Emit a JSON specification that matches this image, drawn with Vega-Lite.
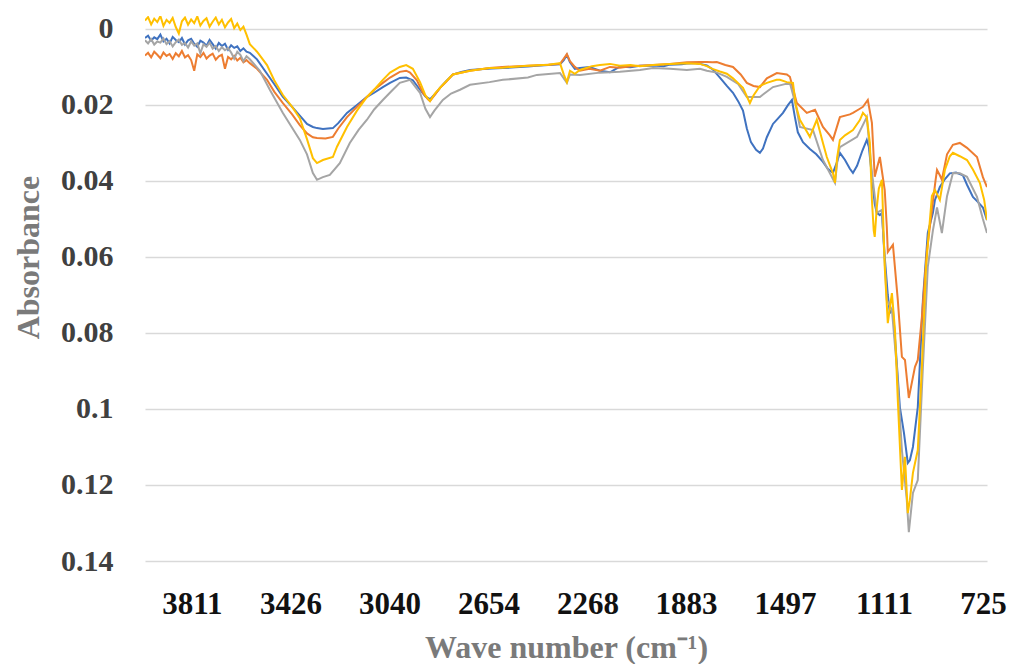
{
"$schema": "https://vega.github.io/schema/vega-lite/v6.json",
"width": 842, "height": 545,
"autosize": "none",
"padding": {"left": 145, "top": 16, "right": 22, "bottom": 103},
"background": "white",
"config": {"view": {"stroke": null}},
"data": {"values": [
{"s":"A","w":3994,"a":0.0024},{"s":"A","w":3982,"a":0.0018},{"s":"A","w":3970,"a":0.0031},{"s":"A","w":3958,"a":0.0022},{"s":"A","w":3946,"a":0.0027},{"s":"A","w":3934,"a":0.0015},{"s":"A","w":3922,"a":0.0033},{"s":"A","w":3910,"a":0.0026},{"s":"A","w":3898,"a":0.0038},{"s":"A","w":3886,"a":0.0021},{"s":"A","w":3874,"a":0.0029},{"s":"A","w":3862,"a":0.0035},{"s":"A","w":3850,"a":0.0024},{"s":"A","w":3838,"a":0.0041},{"s":"A","w":3826,"a":0.0030},{"s":"A","w":3814,"a":0.0026},{"s":"A","w":3802,"a":0.0039},{"s":"A","w":3790,"a":0.0047},{"s":"A","w":3778,"a":0.0031},{"s":"A","w":3766,"a":0.0036},{"s":"A","w":3754,"a":0.0044},{"s":"A","w":3742,"a":0.0029},{"s":"A","w":3730,"a":0.0040},{"s":"A","w":3718,"a":0.0052},{"s":"A","w":3706,"a":0.0037},{"s":"A","w":3694,"a":0.0045},{"s":"A","w":3682,"a":0.0039},{"s":"A","w":3670,"a":0.0055},{"s":"A","w":3658,"a":0.0043},{"s":"A","w":3646,"a":0.0050},{"s":"A","w":3634,"a":0.0046},{"s":"A","w":3622,"a":0.0058},{"s":"A","w":3610,"a":0.0051},{"s":"A","w":3598,"a":0.0060},{"s":"A","w":3585,"a":0.0063},{"s":"A","w":3557,"a":0.0080},{"s":"A","w":3518,"a":0.0118},{"s":"A","w":3490,"a":0.0145},{"s":"A","w":3456,"a":0.0179},{"s":"A","w":3420,"a":0.0205},{"s":"A","w":3390,"a":0.0228},{"s":"A","w":3362,"a":0.0250},{"s":"A","w":3339,"a":0.0258},{"s":"A","w":3323,"a":0.0261},{"s":"A","w":3300,"a":0.0263},{"s":"A","w":3261,"a":0.0261},{"s":"A","w":3240,"a":0.0248},{"s":"A","w":3206,"a":0.0221},{"s":"A","w":3167,"a":0.0200},{"s":"A","w":3128,"a":0.0179},{"s":"A","w":3100,"a":0.0168},{"s":"A","w":3066,"a":0.0153},{"s":"A","w":3038,"a":0.0142},{"s":"A","w":3000,"a":0.0129},{"s":"A","w":2975,"a":0.0128},{"s":"A","w":2949,"a":0.0135},{"s":"A","w":2921,"a":0.0160},{"s":"A","w":2900,"a":0.0178},{"s":"A","w":2882,"a":0.0185},{"s":"A","w":2863,"a":0.0172},{"s":"A","w":2843,"a":0.0155},{"s":"A","w":2820,"a":0.0138},{"s":"A","w":2793,"a":0.0120},{"s":"A","w":2760,"a":0.0113},{"s":"A","w":2726,"a":0.0108},{"s":"A","w":2687,"a":0.0106},{"s":"A","w":2640,"a":0.0104},{"s":"A","w":2598,"a":0.0103},{"s":"A","w":2550,"a":0.0101},{"s":"A","w":2500,"a":0.0099},{"s":"A","w":2465,"a":0.0097},{"s":"A","w":2420,"a":0.0095},{"s":"A","w":2375,"a":0.0093},{"s":"A","w":2360,"a":0.0082},{"s":"A","w":2348,"a":0.0068},{"s":"A","w":2336,"a":0.0088},{"s":"A","w":2317,"a":0.0105},{"s":"A","w":2297,"a":0.0103},{"s":"A","w":2260,"a":0.0100},{"s":"A","w":2219,"a":0.0110},{"s":"A","w":2180,"a":0.0114},{"s":"A","w":2141,"a":0.0099},{"s":"A","w":2100,"a":0.0101},{"s":"A","w":2063,"a":0.0097},{"s":"A","w":2012,"a":0.0096},{"s":"A","w":1970,"a":0.0098},{"s":"A","w":1946,"a":0.0094},{"s":"A","w":1900,"a":0.0093},{"s":"A","w":1880,"a":0.0091},{"s":"A","w":1850,"a":0.0090},{"s":"A","w":1829,"a":0.0092},{"s":"A","w":1802,"a":0.0096},{"s":"A","w":1780,"a":0.0106},{"s":"A","w":1751,"a":0.0128},{"s":"A","w":1724,"a":0.0150},{"s":"A","w":1700,"a":0.0168},{"s":"A","w":1680,"a":0.0190},{"s":"A","w":1661,"a":0.0215},{"s":"A","w":1646,"a":0.0262},{"s":"A","w":1630,"a":0.0298},{"s":"A","w":1610,"a":0.0318},{"s":"A","w":1595,"a":0.0326},{"s":"A","w":1583,"a":0.0315},{"s":"A","w":1568,"a":0.0285},{"s":"A","w":1544,"a":0.0250},{"s":"A","w":1525,"a":0.0236},{"s":"A","w":1505,"a":0.0221},{"s":"A","w":1485,"a":0.0200},{"s":"A","w":1470,"a":0.0187},{"s":"A","w":1459,"a":0.0230},{"s":"A","w":1447,"a":0.0272},{"s":"A","w":1427,"a":0.0298},{"s":"A","w":1400,"a":0.0316},{"s":"A","w":1375,"a":0.0330},{"s":"A","w":1349,"a":0.0350},{"s":"A","w":1330,"a":0.0368},{"s":"A","w":1310,"a":0.0379},{"s":"A","w":1294,"a":0.0350},{"s":"A","w":1283,"a":0.0326},{"s":"A","w":1263,"a":0.0345},{"s":"A","w":1244,"a":0.0368},{"s":"A","w":1232,"a":0.0379},{"s":"A","w":1216,"a":0.0360},{"s":"A","w":1195,"a":0.0320},{"s":"A","w":1178,"a":0.0292},{"s":"A","w":1170,"a":0.0310},{"s":"A","w":1158,"a":0.0389},{"s":"A","w":1147,"a":0.0460},{"s":"A","w":1139,"a":0.0484},{"s":"A","w":1127,"a":0.0490},{"s":"A","w":1119,"a":0.0484},{"s":"A","w":1108,"a":0.0600},{"s":"A","w":1096,"a":0.0700},{"s":"A","w":1088,"a":0.0747},{"s":"A","w":1076,"a":0.0739},{"s":"A","w":1064,"a":0.0850},{"s":"A","w":1049,"a":0.0995},{"s":"A","w":1033,"a":0.1063},{"s":"A","w":1018,"a":0.1142},{"s":"A","w":1010,"a":0.1135},{"s":"A","w":998,"a":0.1100},{"s":"A","w":979,"a":0.0995},{"s":"A","w":959,"a":0.0713},{"s":"A","w":940,"a":0.0537},{"s":"A","w":920,"a":0.0484},{"s":"A","w":912,"a":0.0450},{"s":"A","w":893,"a":0.0416},{"s":"A","w":873,"a":0.0395},{"s":"A","w":854,"a":0.0380},{"s":"A","w":830,"a":0.0378},{"s":"A","w":803,"a":0.0385},{"s":"A","w":787,"a":0.0410},{"s":"A","w":764,"a":0.0442},{"s":"A","w":745,"a":0.0455},{"s":"A","w":725,"a":0.0470},{"s":"A","w":709,"a":0.0503},
{"s":"B","w":3994,"a":0.0070},{"s":"B","w":3982,"a":0.0063},{"s":"B","w":3970,"a":0.0075},{"s":"B","w":3958,"a":0.0060},{"s":"B","w":3946,"a":0.0068},{"s":"B","w":3934,"a":0.0077},{"s":"B","w":3922,"a":0.0062},{"s":"B","w":3910,"a":0.0071},{"s":"B","w":3898,"a":0.0066},{"s":"B","w":3886,"a":0.0079},{"s":"B","w":3874,"a":0.0064},{"s":"B","w":3862,"a":0.0072},{"s":"B","w":3850,"a":0.0058},{"s":"B","w":3838,"a":0.0075},{"s":"B","w":3826,"a":0.0069},{"s":"B","w":3814,"a":0.0082},{"s":"B","w":3802,"a":0.0110},{"s":"B","w":3790,"a":0.0067},{"s":"B","w":3778,"a":0.0074},{"s":"B","w":3766,"a":0.0063},{"s":"B","w":3754,"a":0.0078},{"s":"B","w":3742,"a":0.0070},{"s":"B","w":3730,"a":0.0065},{"s":"B","w":3718,"a":0.0081},{"s":"B","w":3706,"a":0.0072},{"s":"B","w":3694,"a":0.0068},{"s":"B","w":3682,"a":0.0105},{"s":"B","w":3670,"a":0.0074},{"s":"B","w":3658,"a":0.0080},{"s":"B","w":3646,"a":0.0071},{"s":"B","w":3634,"a":0.0083},{"s":"B","w":3622,"a":0.0076},{"s":"B","w":3610,"a":0.0088},{"s":"B","w":3598,"a":0.0082},{"s":"B","w":3585,"a":0.0090},{"s":"B","w":3557,"a":0.0105},{"s":"B","w":3518,"a":0.0134},{"s":"B","w":3490,"a":0.0165},{"s":"B","w":3456,"a":0.0195},{"s":"B","w":3420,"a":0.0225},{"s":"B","w":3390,"a":0.0253},{"s":"B","w":3362,"a":0.0275},{"s":"B","w":3339,"a":0.0285},{"s":"B","w":3323,"a":0.0287},{"s":"B","w":3290,"a":0.0288},{"s":"B","w":3261,"a":0.0284},{"s":"B","w":3240,"a":0.0262},{"s":"B","w":3206,"a":0.0232},{"s":"B","w":3167,"a":0.0205},{"s":"B","w":3128,"a":0.0179},{"s":"B","w":3100,"a":0.0160},{"s":"B","w":3066,"a":0.0142},{"s":"B","w":3038,"a":0.0128},{"s":"B","w":3000,"a":0.0113},{"s":"B","w":2975,"a":0.0110},{"s":"B","w":2960,"a":0.0115},{"s":"B","w":2933,"a":0.0135},{"s":"B","w":2910,"a":0.0168},{"s":"B","w":2890,"a":0.0185},{"s":"B","w":2882,"a":0.0190},{"s":"B","w":2865,"a":0.0175},{"s":"B","w":2843,"a":0.0155},{"s":"B","w":2820,"a":0.0140},{"s":"B","w":2793,"a":0.0120},{"s":"B","w":2726,"a":0.0110},{"s":"B","w":2650,"a":0.0103},{"s":"B","w":2600,"a":0.0100},{"s":"B","w":2500,"a":0.0097},{"s":"B","w":2420,"a":0.0094},{"s":"B","w":2375,"a":0.0092},{"s":"B","w":2360,"a":0.0078},{"s":"B","w":2348,"a":0.0066},{"s":"B","w":2336,"a":0.0085},{"s":"B","w":2317,"a":0.0100},{"s":"B","w":2297,"a":0.0110},{"s":"B","w":2260,"a":0.0105},{"s":"B","w":2219,"a":0.0110},{"s":"B","w":2180,"a":0.0100},{"s":"B","w":2141,"a":0.0102},{"s":"B","w":2100,"a":0.0098},{"s":"B","w":2063,"a":0.0097},{"s":"B","w":2012,"a":0.0095},{"s":"B","w":1946,"a":0.0092},{"s":"B","w":1880,"a":0.0088},{"s":"B","w":1829,"a":0.0087},{"s":"B","w":1802,"a":0.0087},{"s":"B","w":1780,"a":0.0088},{"s":"B","w":1763,"a":0.0087},{"s":"B","w":1730,"a":0.0095},{"s":"B","w":1700,"a":0.0100},{"s":"B","w":1670,"a":0.0120},{"s":"B","w":1646,"a":0.0142},{"s":"B","w":1620,"a":0.0150},{"s":"B","w":1595,"a":0.0153},{"s":"B","w":1568,"a":0.0130},{"s":"B","w":1529,"a":0.0116},{"s":"B","w":1490,"a":0.0120},{"s":"B","w":1478,"a":0.0126},{"s":"B","w":1451,"a":0.0195},{"s":"B","w":1412,"a":0.0221},{"s":"B","w":1380,"a":0.0213},{"s":"B","w":1349,"a":0.0258},{"s":"B","w":1322,"a":0.0280},{"s":"B","w":1310,"a":0.0292},{"s":"B","w":1283,"a":0.0232},{"s":"B","w":1244,"a":0.0225},{"s":"B","w":1232,"a":0.0221},{"s":"B","w":1205,"a":0.0210},{"s":"B","w":1193,"a":0.0205},{"s":"B","w":1174,"a":0.0187},{"s":"B","w":1158,"a":0.0247},{"s":"B","w":1147,"a":0.0389},{"s":"B","w":1127,"a":0.0337},{"s":"B","w":1108,"a":0.0424},{"s":"B","w":1100,"a":0.0520},{"s":"B","w":1096,"a":0.0587},{"s":"B","w":1076,"a":0.0568},{"s":"B","w":1057,"a":0.0713},{"s":"B","w":1041,"a":0.0863},{"s":"B","w":1029,"a":0.0871},{"s":"B","w":1014,"a":0.0971},{"s":"B","w":990,"a":0.0889},{"s":"B","w":979,"a":0.0871},{"s":"B","w":963,"a":0.0758},{"s":"B","w":943,"a":0.0582},{"s":"B","w":924,"a":0.0476},{"s":"B","w":910,"a":0.0400},{"s":"B","w":904,"a":0.0371},{"s":"B","w":893,"a":0.0385},{"s":"B","w":885,"a":0.0397},{"s":"B","w":865,"a":0.0330},{"s":"B","w":842,"a":0.0305},{"s":"B","w":815,"a":0.0300},{"s":"B","w":787,"a":0.0313},{"s":"B","w":748,"a":0.0337},{"s":"B","w":725,"a":0.0390},{"s":"B","w":709,"a":0.0416},
{"s":"C","w":3994,"a":0.0030},{"s":"C","w":3982,"a":0.0038},{"s":"C","w":3970,"a":0.0027},{"s":"C","w":3958,"a":0.0041},{"s":"C","w":3946,"a":0.0033},{"s":"C","w":3934,"a":0.0036},{"s":"C","w":3922,"a":0.0025},{"s":"C","w":3910,"a":0.0040},{"s":"C","w":3898,"a":0.0032},{"s":"C","w":3886,"a":0.0046},{"s":"C","w":3874,"a":0.0035},{"s":"C","w":3862,"a":0.0028},{"s":"C","w":3850,"a":0.0042},{"s":"C","w":3838,"a":0.0037},{"s":"C","w":3826,"a":0.0049},{"s":"C","w":3814,"a":0.0033},{"s":"C","w":3802,"a":0.0044},{"s":"C","w":3790,"a":0.0038},{"s":"C","w":3778,"a":0.0064},{"s":"C","w":3766,"a":0.0040},{"s":"C","w":3754,"a":0.0047},{"s":"C","w":3742,"a":0.0036},{"s":"C","w":3730,"a":0.0052},{"s":"C","w":3718,"a":0.0045},{"s":"C","w":3706,"a":0.0058},{"s":"C","w":3694,"a":0.0048},{"s":"C","w":3682,"a":0.0056},{"s":"C","w":3670,"a":0.0050},{"s":"C","w":3658,"a":0.0062},{"s":"C","w":3646,"a":0.0078},{"s":"C","w":3634,"a":0.0060},{"s":"C","w":3622,"a":0.0068},{"s":"C","w":3610,"a":0.0085},{"s":"C","w":3598,"a":0.0072},{"s":"C","w":3585,"a":0.0080},{"s":"C","w":3546,"a":0.0110},{"s":"C","w":3507,"a":0.0160},{"s":"C","w":3456,"a":0.0221},{"s":"C","w":3420,"a":0.0260},{"s":"C","w":3390,"a":0.0292},{"s":"C","w":3362,"a":0.0330},{"s":"C","w":3339,"a":0.0379},{"s":"C","w":3323,"a":0.0397},{"s":"C","w":3300,"a":0.0390},{"s":"C","w":3273,"a":0.0384},{"s":"C","w":3234,"a":0.0353},{"s":"C","w":3195,"a":0.0300},{"s":"C","w":3160,"a":0.0265},{"s":"C","w":3128,"a":0.0239},{"s":"C","w":3100,"a":0.0212},{"s":"C","w":3066,"a":0.0187},{"s":"C","w":3030,"a":0.0162},{"s":"C","w":3000,"a":0.0142},{"s":"C","w":2960,"a":0.0134},{"s":"C","w":2921,"a":0.0168},{"s":"C","w":2900,"a":0.0210},{"s":"C","w":2882,"a":0.0232},{"s":"C","w":2865,"a":0.0215},{"s":"C","w":2832,"a":0.0187},{"s":"C","w":2800,"a":0.0170},{"s":"C","w":2765,"a":0.0160},{"s":"C","w":2726,"a":0.0147},{"s":"C","w":2650,"a":0.0140},{"s":"C","w":2598,"a":0.0134},{"s":"C","w":2500,"a":0.0128},{"s":"C","w":2465,"a":0.0121},{"s":"C","w":2375,"a":0.0116},{"s":"C","w":2360,"a":0.0130},{"s":"C","w":2348,"a":0.0142},{"s":"C","w":2336,"a":0.0120},{"s":"C","w":2297,"a":0.0121},{"s":"C","w":2219,"a":0.0115},{"s":"C","w":2141,"a":0.0113},{"s":"C","w":2063,"a":0.0108},{"s":"C","w":2012,"a":0.0103},{"s":"C","w":1946,"a":0.0105},{"s":"C","w":1880,"a":0.0108},{"s":"C","w":1829,"a":0.0105},{"s":"C","w":1802,"a":0.0110},{"s":"C","w":1763,"a":0.0115},{"s":"C","w":1724,"a":0.0126},{"s":"C","w":1680,"a":0.0145},{"s":"C","w":1646,"a":0.0179},{"s":"C","w":1595,"a":0.0179},{"s":"C","w":1544,"a":0.0153},{"s":"C","w":1478,"a":0.0142},{"s":"C","w":1455,"a":0.0200},{"s":"C","w":1439,"a":0.0258},{"s":"C","w":1388,"a":0.0266},{"s":"C","w":1349,"a":0.0345},{"s":"C","w":1302,"a":0.0405},{"s":"C","w":1290,"a":0.0330},{"s":"C","w":1283,"a":0.0311},{"s":"C","w":1216,"a":0.0284},{"s":"C","w":1178,"a":0.0232},{"s":"C","w":1158,"a":0.0379},{"s":"C","w":1139,"a":0.0484},{"s":"C","w":1119,"a":0.0476},{"s":"C","w":1100,"a":0.0713},{"s":"C","w":1080,"a":0.0739},{"s":"C","w":1061,"a":0.0889},{"s":"C","w":1041,"a":0.1108},{"s":"C","w":1022,"a":0.1239},{"s":"C","w":1014,"a":0.1324},{"s":"C","w":998,"a":0.1221},{"s":"C","w":979,"a":0.1187},{"s":"C","w":959,"a":0.0889},{"s":"C","w":940,"a":0.0626},{"s":"C","w":920,"a":0.0530},{"s":"C","w":904,"a":0.0470},{"s":"C","w":885,"a":0.0537},{"s":"C","w":865,"a":0.0440},{"s":"C","w":842,"a":0.0379},{"s":"C","w":815,"a":0.0380},{"s":"C","w":787,"a":0.0389},{"s":"C","w":748,"a":0.0442},{"s":"C","w":725,"a":0.0500},{"s":"C","w":709,"a":0.0537},
{"s":"D","w":3994,"a":-0.0022},{"s":"D","w":3982,"a":-0.0031},{"s":"D","w":3970,"a":-0.0012},{"s":"D","w":3958,"a":-0.0027},{"s":"D","w":3946,"a":-0.0018},{"s":"D","w":3934,"a":-0.0034},{"s":"D","w":3922,"a":-0.0008},{"s":"D","w":3910,"a":-0.0024},{"s":"D","w":3898,"a":-0.0016},{"s":"D","w":3886,"a":-0.0029},{"s":"D","w":3874,"a":-0.0005},{"s":"D","w":3862,"a":0.0012},{"s":"D","w":3850,"a":-0.0020},{"s":"D","w":3838,"a":-0.0030},{"s":"D","w":3826,"a":-0.0011},{"s":"D","w":3814,"a":-0.0025},{"s":"D","w":3802,"a":-0.0015},{"s":"D","w":3790,"a":-0.0033},{"s":"D","w":3778,"a":-0.0009},{"s":"D","w":3766,"a":-0.0021},{"s":"D","w":3754,"a":-0.0028},{"s":"D","w":3742,"a":-0.0006},{"s":"D","w":3730,"a":-0.0019},{"s":"D","w":3718,"a":-0.0030},{"s":"D","w":3706,"a":-0.0012},{"s":"D","w":3694,"a":-0.0024},{"s":"D","w":3682,"a":-0.0004},{"s":"D","w":3670,"a":-0.0017},{"s":"D","w":3658,"a":-0.0026},{"s":"D","w":3646,"a":-0.0002},{"s":"D","w":3634,"a":-0.0014},{"s":"D","w":3622,"a":0.0003},{"s":"D","w":3610,"a":-0.0006},{"s":"D","w":3598,"a":0.0015},{"s":"D","w":3585,"a":0.0040},{"s":"D","w":3557,"a":0.0060},{"s":"D","w":3518,"a":0.0095},{"s":"D","w":3490,"a":0.0135},{"s":"D","w":3456,"a":0.0174},{"s":"D","w":3420,"a":0.0205},{"s":"D","w":3390,"a":0.0235},{"s":"D","w":3362,"a":0.0290},{"s":"D","w":3339,"a":0.0340},{"s":"D","w":3323,"a":0.0353},{"s":"D","w":3300,"a":0.0345},{"s":"D","w":3261,"a":0.0337},{"s":"D","w":3245,"a":0.0310},{"s":"D","w":3206,"a":0.0258},{"s":"D","w":3167,"a":0.0215},{"s":"D","w":3128,"a":0.0179},{"s":"D","w":3100,"a":0.0160},{"s":"D","w":3066,"a":0.0134},{"s":"D","w":3038,"a":0.0115},{"s":"D","w":3000,"a":0.0100},{"s":"D","w":2975,"a":0.0095},{"s":"D","w":2949,"a":0.0105},{"s":"D","w":2921,"a":0.0140},{"s":"D","w":2900,"a":0.0175},{"s":"D","w":2882,"a":0.0190},{"s":"D","w":2863,"a":0.0170},{"s":"D","w":2832,"a":0.0147},{"s":"D","w":2793,"a":0.0120},{"s":"D","w":2726,"a":0.0110},{"s":"D","w":2650,"a":0.0103},{"s":"D","w":2600,"a":0.0102},{"s":"D","w":2500,"a":0.0097},{"s":"D","w":2420,"a":0.0094},{"s":"D","w":2375,"a":0.0090},{"s":"D","w":2360,"a":0.0120},{"s":"D","w":2348,"a":0.0140},{"s":"D","w":2336,"a":0.0110},{"s":"D","w":2317,"a":0.0118},{"s":"D","w":2297,"a":0.0108},{"s":"D","w":2250,"a":0.0098},{"s":"D","w":2219,"a":0.0095},{"s":"D","w":2180,"a":0.0092},{"s":"D","w":2141,"a":0.0097},{"s":"D","w":2100,"a":0.0095},{"s":"D","w":2063,"a":0.0098},{"s":"D","w":2012,"a":0.0095},{"s":"D","w":1946,"a":0.0092},{"s":"D","w":1880,"a":0.0090},{"s":"D","w":1829,"a":0.0092},{"s":"D","w":1802,"a":0.0098},{"s":"D","w":1780,"a":0.0105},{"s":"D","w":1751,"a":0.0112},{"s":"D","w":1724,"a":0.0118},{"s":"D","w":1700,"a":0.0130},{"s":"D","w":1661,"a":0.0155},{"s":"D","w":1634,"a":0.0195},{"s":"D","w":1620,"a":0.0175},{"s":"D","w":1595,"a":0.0150},{"s":"D","w":1568,"a":0.0142},{"s":"D","w":1530,"a":0.0134},{"s":"D","w":1517,"a":0.0134},{"s":"D","w":1490,"a":0.0140},{"s":"D","w":1466,"a":0.0142},{"s":"D","w":1455,"a":0.0200},{"s":"D","w":1439,"a":0.0239},{"s":"D","w":1412,"a":0.0270},{"s":"D","w":1400,"a":0.0284},{"s":"D","w":1373,"a":0.0239},{"s":"D","w":1349,"a":0.0300},{"s":"D","w":1334,"a":0.0337},{"s":"D","w":1310,"a":0.0380},{"s":"D","w":1302,"a":0.0405},{"s":"D","w":1294,"a":0.0340},{"s":"D","w":1283,"a":0.0292},{"s":"D","w":1263,"a":0.0280},{"s":"D","w":1232,"a":0.0266},{"s":"D","w":1205,"a":0.0240},{"s":"D","w":1193,"a":0.0221},{"s":"D","w":1178,"a":0.0232},{"s":"D","w":1166,"a":0.0300},{"s":"D","w":1158,"a":0.0450},{"s":"D","w":1151,"a":0.0530},{"s":"D","w":1147,"a":0.0547},{"s":"D","w":1139,"a":0.0470},{"s":"D","w":1131,"a":0.0420},{"s":"D","w":1119,"a":0.0397},{"s":"D","w":1108,"a":0.0626},{"s":"D","w":1096,"a":0.0774},{"s":"D","w":1080,"a":0.0695},{"s":"D","w":1068,"a":0.0792},{"s":"D","w":1057,"a":0.0976},{"s":"D","w":1041,"a":0.1213},{"s":"D","w":1029,"a":0.1126},{"s":"D","w":1018,"a":0.1274},{"s":"D","w":1010,"a":0.1240},{"s":"D","w":998,"a":0.1168},{"s":"D","w":979,"a":0.1108},{"s":"D","w":963,"a":0.0889},{"s":"D","w":947,"a":0.0626},{"s":"D","w":924,"a":0.0440},{"s":"D","w":912,"a":0.0424},{"s":"D","w":893,"a":0.0450},{"s":"D","w":873,"a":0.0370},{"s":"D","w":854,"a":0.0335},{"s":"D","w":842,"a":0.0326},{"s":"D","w":815,"a":0.0335},{"s":"D","w":787,"a":0.0345},{"s":"D","w":764,"a":0.0370},{"s":"D","w":737,"a":0.0405},{"s":"D","w":720,"a":0.0450},{"s":"D","w":709,"a":0.0503}
]},
"mark": {"type": "line", "strokeWidth": 2, "clip": true},
"encoding": {
  "x": {"field": "w", "type": "quantitative",
    "scale": {"domain": [709, 3994], "reverse": true, "nice": false, "zero": false},
    "axis": {"values": [3811, 3426, 3040, 2654, 2268, 1883, 1497, 1111, 725], "format": "d", "grid": false, "domain": false, "ticks": false,
      "labelFont": "Liberation Serif", "labelFontWeight": "bold", "labelFontSize": 31, "labelColor": "#111111", "labelPadding": 28,
      "labelOverlap": false, "labelFlush": false, "labelBound": false,
      "title": "Wave number (cm⁻¹)", "titleFont": "Liberation Serif", "titleFontWeight": "bold", "titleFontSize": 32, "titleColor": "#7a7a7a",
      "titleY": 96, "titleBaseline": "alphabetic"}},
  "y": {"field": "a", "type": "quantitative",
    "scale": {"domain": [-0.0034, 0.14], "reverse": true, "nice": false, "zero": false},
    "axis": {"values": [0, 0.02, 0.04, 0.06, 0.08, 0.1, 0.12, 0.14], "format": ".2~f", "grid": true, "gridColor": "#d9d9d9", "gridWidth": 1.5,
      "domain": false, "ticks": false,
      "labelFont": "Liberation Serif", "labelFontWeight": "bold", "labelFontSize": 30, "labelColor": "#404040", "labelPadding": 32,
      "labelOverlap": false, "labelFlush": false, "labelBound": false,
      "title": "Absorbance", "titleFont": "Liberation Serif", "titleFontWeight": "bold", "titleFontSize": 32, "titleColor": "#7a7a7a",
      "titleX": -117, "titleY": 241, "titleAngle": -90, "titleAlign": "center", "titleBaseline": "middle"}},
  "color": {"field": "s", "type": "nominal",
    "scale": {"domain": ["A", "B", "C", "D"], "range": ["#3f72c0", "#ed7d31", "#a5a5a5", "#ffc000"]},
    "legend": null}
}
}
